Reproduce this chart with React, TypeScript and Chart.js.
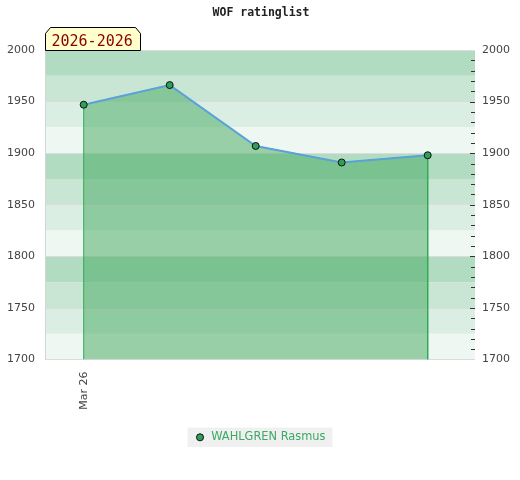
import React, { useEffect, useRef } from "react";
import { Chart, registerables } from "chart.js";

Chart.register(...registerables);

const periods = [0, 1, 2, 3, 4];
const ratings = [1947, 1966, 1907, 1891, 1898];
const xTickValues = [0];
const xTickLabels = ["Mar 26"];
const playerName = "WAHLGREN Rasmus";
const chartTitle = "WOF ratinglist";
const periodLabel = "2026-2026";
const yMin = 1700;
const yMax = 2000;
const bandColors = ["#b2dcc2", "#c8e6d3", "#dbeee3", "#eef7f1"];

const bandsPlugin = {
  id: "bands",
  beforeDraw(chart: any) {
    const { ctx, chartArea } = chart;
    const y = chart.scales.y;
    ctx.save();
    let k = 0;
    for (let v = yMax; v > yMin; v -= 25) {
      const top = y.getPixelForValue(v);
      const bot = y.getPixelForValue(v - 25);
      ctx.fillStyle = bandColors[k % 4];
      ctx.fillRect(chartArea.left, top, chartArea.right - chartArea.left, bot - top);
      k++;
    }
    ctx.restore();
    const lg = chart.legend;
    if (lg && lg.legendHitBoxes && lg.legendHitBoxes.length) {
      const hb = lg.legendHitBoxes[0];
      ctx.save();
      ctx.fillStyle = "#f0f0f0";
      ctx.fillRect(hb.left - 7, hb.top - 4, hb.width + 14, hb.height + 8);
      ctx.restore();
    }
  },
  afterDraw(chart: any) {
    const { ctx, chartArea } = chart;
    const y2 = chart.scales.y2;
    ctx.save();
    ctx.strokeStyle = "#333";
    ctx.lineWidth = 1;
    for (let v = yMin + 10; v < yMax; v += 10) {
      const py = Math.round(y2.getPixelForValue(v)) + 0.5;
      const len = v % 50 === 0 ? 5 : 4;
      ctx.beginPath();
      ctx.moveTo(chartArea.right - len, py);
      ctx.lineTo(chartArea.right, py);
      ctx.stroke();
    }
    ctx.fillStyle = "#222";
    ctx.font = "bold 11.5px 'DejaVu Sans Mono'";
    ctx.textAlign = "center";
    ctx.textBaseline = "middle";
    ctx.fillText(chartTitle, 261, 13);
    const l = chartArea.left + 0.5;
    const r = l + 95;
    const t = 27.5;
    const b = chartArea.top + 0.5;
    ctx.beginPath();
    ctx.moveTo(l, b);
    ctx.lineTo(l, t + 6);
    ctx.lineTo(l + 5, t);
    ctx.lineTo(r - 5, t);
    ctx.lineTo(r, t + 6);
    ctx.lineTo(r, b);
    ctx.closePath();
    ctx.fillStyle = "#ffffcc";
    ctx.fill();
    ctx.strokeStyle = "#000";
    ctx.stroke();
    ctx.fillStyle = "#8b0000";
    ctx.font = "15px 'DejaVu Sans Mono'";
    ctx.textAlign = "left";
    ctx.textBaseline = "alphabetic";
    ctx.fillText(periodLabel, l + 6, 45.5);
    ctx.restore();
  },
};

const plain = (v: any) => String(v);

export default function App() {
  const ref = useRef<HTMLCanvasElement | null>(null);
  useEffect(() => {
    if (!ref.current) return;
    const areaData = [
      { x: periods[0], y: yMin },
      ...periods.map((p, i) => ({ x: p, y: ratings[i] })),
      { x: periods[periods.length - 1], y: yMin },
    ];
    const chart = new Chart(ref.current, {
      type: "line",
      data: {
        datasets: [
          {
            label: playerName,
            data: periods.map((p, i) => ({ x: p, y: ratings[i] })),
            borderColor: "#5ca2da",
            borderWidth: 2,
            pointRadius: 3.5,
            pointBackgroundColor: "#2e9e5a",
            pointBorderColor: "#111",
            pointBorderWidth: 1,
            fill: false,
            order: 0,
          },
          {
            label: "area",
            data: areaData,
            borderColor: "#2eaa55",
            borderWidth: 1,
            pointRadius: 0,
            backgroundColor: "rgba(73,170,100,0.52)",
            fill: "start",
            order: 1,
          },
        ],
      },
      plugins: [bandsPlugin],
      options: {
        animation: false,
        responsive: false,
        devicePixelRatio: 1,
        layout: { padding: { top: 50, bottom: 27, left: 0, right: 0 } },
        plugins: {
          title: { display: false },
          tooltip: { enabled: false },
          legend: {
            position: "bottom",
            labels: {
              usePointStyle: true,
              pointStyle: "circle",
              boxWidth: 11,
              boxHeight: 5,
              color: "#3aaa64",
              font: { family: "'DejaVu Sans'", size: 11.4 },
              padding: 10,
              generateLabels: () => [
                {
                  text: playerName,
                  fillStyle: "#2e9e5a",
                  strokeStyle: "#111",
                  lineWidth: 1,
                  pointStyle: "circle",
                  datasetIndex: 0,
                  fontColor: "#3aaa64",
                  hidden: false,
                },
              ],
            },
          },
        },
        scales: {
          x: {
            type: "linear",
            min: -0.45,
            max: 4.55,
            grid: { display: false, tickLength: 0 },
            border: { display: false },
            afterBuildTicks: (s: any) => {
              s.ticks = xTickValues.map((v) => ({ value: v }));
            },
            afterFit: (s: any) => {
              s.height = 62;
            },
            ticks: {
              autoSkip: false,
              minRotation: 90,
              maxRotation: 90,
              padding: 12,
              color: "#444",
              font: { family: "'DejaVu Sans'", size: 11 },
              callback: (v: any) => {
                const i = xTickValues.indexOf(v);
                return i >= 0 ? xTickLabels[i] : "";
              },
            },
          },
          y: {
            position: "left",
            min: yMin,
            max: yMax,
            afterFit: (s: any) => {
              s.width = 45;
            },
            grid: { color: "#dcdcdc", drawTicks: false },
            border: { display: true, color: "#d4d4d4" },
            ticks: {
              stepSize: 50,
              padding: 10,
              color: "#444",
              font: { family: "'DejaVu Sans'", size: 11 },
              callback: plain,
            },
          },
          y2: {
            position: "right",
            min: yMin,
            max: yMax,
            afterFit: (s: any) => {
              s.width = 45;
            },
            grid: { display: false, tickLength: 0 },
            border: { display: false },
            ticks: {
              stepSize: 50,
              padding: 7,
              color: "#444",
              font: { family: "'DejaVu Sans'", size: 11 },
              callback: plain,
            },
          },
        },
      },
    } as any);
    return () => chart.destroy();
  }, []);
  return (
    <div style={{ position: "absolute", left: 0, top: 0, width: 520, height: 480, background: "#fff" }}>
      <canvas ref={ref} width={520} height={480} />
    </div>
  );
}
